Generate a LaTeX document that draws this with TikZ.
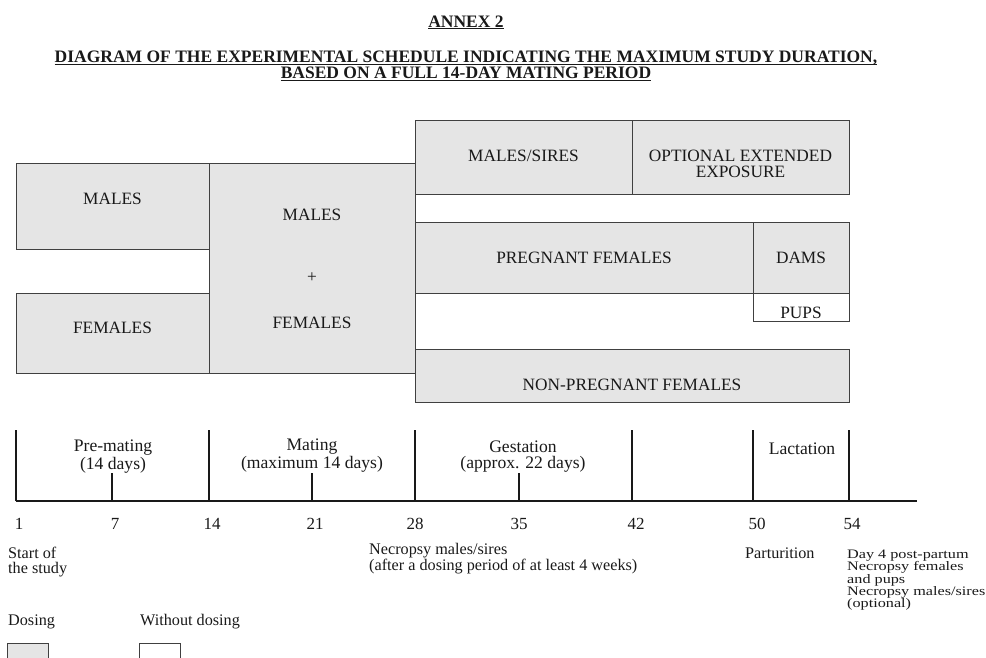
\documentclass[tikz,border=0pt]{standalone}
\usepackage{fontspec}
\usepackage{graphicx}
\setmainfont{Liberation Serif}
\definecolor{shade}{gray}{0.9}
\definecolor{edge}{gray}{0.25}
\definecolor{ink}{gray}{0.1}
% underline that ignores descenders (commas) so all heading rules sit alike
\newcommand\headrule[1]{\underline{\raisebox{0pt}[\height][0pt]{#1}}}
\begin{document}
\begin{tikzpicture}[x=1pt,y=-1pt,
  grp/.style={draw=edge, fill=shade, line width=1.1pt, inner sep=0pt, anchor=north west},
  ttl/.style={anchor=base, inner sep=0pt, text=ink, font=\fontsize{17.5}{17.5}\selectfont\bfseries},
  boxtxt/.style={anchor=base, inner sep=0pt, align=center, text=ink, font=\fontsize{17.3}{16}\selectfont},
  lbl/.style={anchor=base, inner sep=0pt, align=center, text=ink, font=\fontsize{17.6}{16}\selectfont},
  num/.style={anchor=base, inner sep=0pt, text=ink, font=\fontsize{17}{17}\selectfont},
  note/.style={anchor=base west, inner sep=0pt, align=left, text=ink, font=\fontsize{16.2}{14.5}\selectfont},
  axisline/.style={draw=ink, line width=1.1pt},
]
\useasboundingbox (0,0) rectangle (986,657);

% ---- heading ----
\node[ttl] (annex) at (466,27) {\headrule{ANNEX 2}};
\node[ttl] (head1) at (466,62.7) {\headrule{DIAGRAM OF THE EXPERIMENTAL SCHEDULE INDICATING THE MAXIMUM STUDY DURATION,}};
\node[ttl] (head2) at (466,78.3) {\headrule{BASED ON A FULL 14-DAY MATING PERIOD}};

% ---- animal groups ----
\node[grp, minimum width=193, minimum height=86] (mpre) at (16,163) {};
\node[grp, minimum width=193, minimum height=80] (fpre) at (16,293) {};
\node[grp, minimum width=206, minimum height=210] (mate) at (209,163) {};
\node[grp, minimum width=217, minimum height=74] (sires) at (415,120) {};
\node[grp, minimum width=217, minimum height=74] (ext) at (632,120) {};
\node[grp, minimum width=338, minimum height=71] (preg) at (415,222) {};
\node[grp, minimum width=96, minimum height=71] (dams) at (753,222) {};
\node[grp, fill=white, minimum width=96, minimum height=28] (pups) at (753,293) {};
\node[grp, minimum width=434, minimum height=53] (nonpreg) at (415,349) {};

% (multi-line labels: the base anchor is the baseline of the last line)
\node[boxtxt] (tmpre) at (112.5,204) {MALES};
\node[boxtxt] (tfpre) at (112.5,333) {FEMALES};
\node[boxtxt] (tmate1) at (312,220) {MALES};
\node[boxtxt, anchor=center] (tplus) at (312,278) {+};
\node[boxtxt] (tmate2) at (312,328) {FEMALES};
\node[boxtxt] (tsires) at (523.5,161) {MALES/SIRES};
\node[boxtxt] (topt) at (740.5,177) {OPTIONAL EXTENDED\\EXPOSURE};
\node[boxtxt] (tpreg) at (584,263) {PREGNANT FEMALES};
\node[boxtxt] (tdams) at (801,263) {DAMS};
\node[boxtxt] (tpups) at (801,318) {PUPS};
\node[boxtxt] (tnonpreg) at (632,390) {NON-PREGNANT FEMALES};

% ---- time axis ----
\coordinate (t1) at (16,501);
\coordinate (t7) at (112,501);
\coordinate (t14) at (209,501);
\coordinate (t21) at (312,501);
\coordinate (t28) at (415,501);
\coordinate (t35) at (519,501);
\coordinate (t42) at (632,501);
\coordinate (t50) at (753,501);
\coordinate (t54) at (849,501);
\coordinate (tend) at (917,501);

\draw[axisline] (t1) -- (tend);
\foreach \d in {t1,t14,t28,t42,t50,t54}
  \draw[axisline] (\d) -- ++(0,-71);
\foreach \d in {t7,t21,t35}
  \draw[axisline] (\d) -- ++(0,-28);

\node[lbl] (lpre) at (113,469) {Pre-mating\\(14 days)};
\node[lbl] (lmate) at (312,468) {Mating\\(maximum 14 days)};
\node[lbl] (lgest) at (523,468) {Gestation\\(approx. 22 days)};
\node[lbl] (llact) at (802,454) {Lactation};

\node[num] (n1) at (19,529) {1};
\node[num] (n7) at (115,529) {7};
\node[num] (n14) at (212,529) {14};
\node[num] (n21) at (315,529) {21};
\node[num] (n28) at (415,529) {28};
\node[num] (n35) at (519,529) {35};
\node[num] (n42) at (636,529) {42};
\node[num] (n50) at (757,529) {50};
\node[num] (n54) at (852,529) {54};

% ---- events ----
\node[note] (start) at (8,573) {Start of\\the study};
\node[note, font=\fontsize{16.2}{12.3}\selectfont] (necm) at (369,570.3) {Necropsy males/sires\\(after a dosing period of at least 4 weeks)};
\node[note] (part) at (745,558) {Parturition};
\node[note] (endday) at (847,558) {\scalebox{1}[0.8]{\fontsize{16.2}{14.4}\selectfont
  \begin{tabular}[t]{@{}l@{}}Day 4 post-partum\\ Necropsy females\\ and pups\\ Necropsy males/sires\\ (optional)\end{tabular}}};

% ---- key ----
\node[note] (kdose) at (8,625) {Dosing};
\node[note] (knodose) at (140,625) {Without dosing};
\node[grp, minimum width=41, minimum height=30] (kdosebox) at (7,643) {};
\node[grp, fill=white, minimum width=41, minimum height=30] (knodosebox) at (139,643) {};
\end{tikzpicture}
\end{document}
